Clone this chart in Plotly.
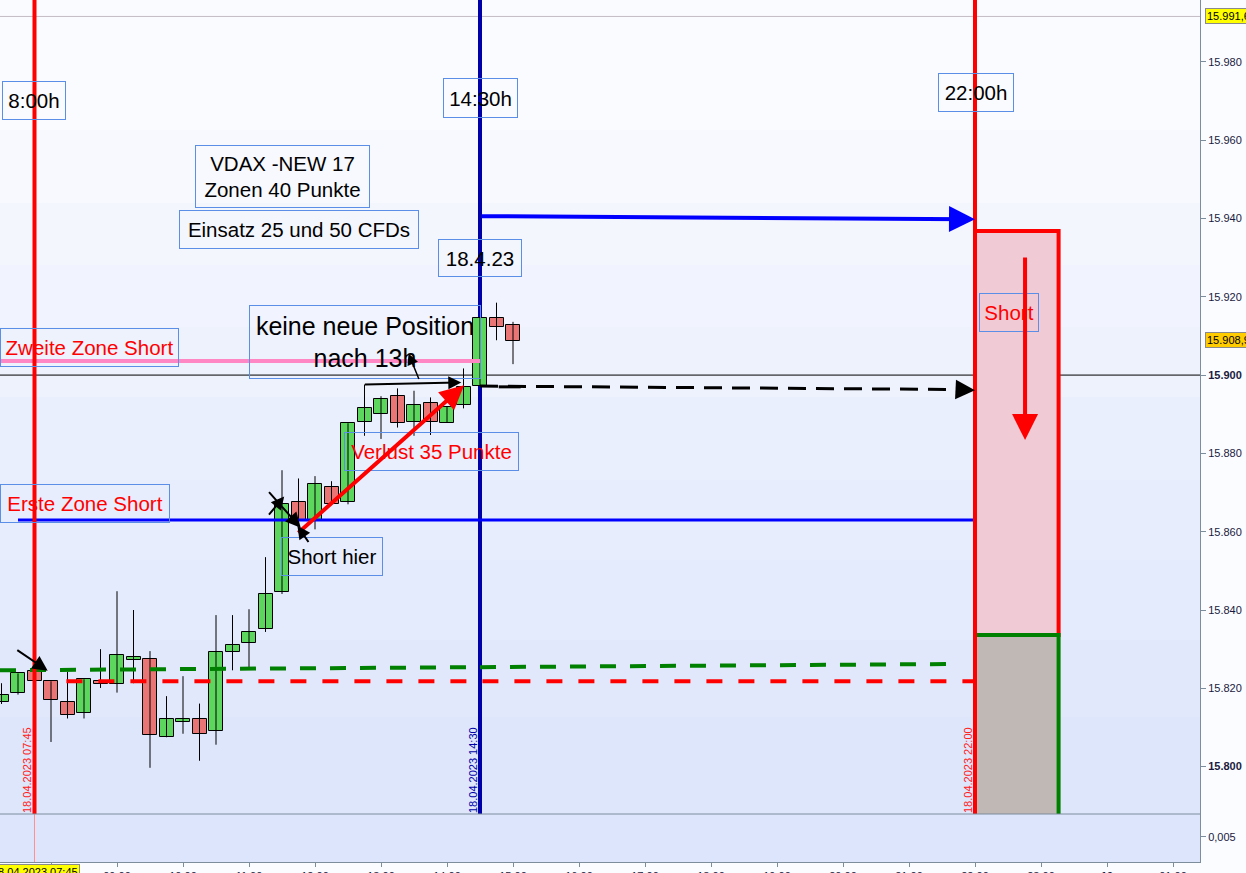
import pandas as pd
import plotly.graph_objects as go

# ---------------- data ----------------
times = list(pd.date_range("2023-04-18 07:15", periods=32, freq="15min"))
opens = [15816.4, 15818.9, 15824.4, 15821.8, 15816.4, 15813.8, 15821.8, 15821.2,
         15827.3, 15827.4, 15807.5, 15811.4, 15812.1, 15809.0, 15829.4, 15831.5,
         15835.1, 15844.5, 15867.5, 15863.1, 15871.5, 15867.5, 15887.9, 15890.0,
         15894.6, 15887.9, 15892.8, 15887.8, 15892.3, 15897.3, 15914.7, 15912.8]
highs = [15821.3, 15823.8, 15824.6, 15821.8, 15824.2, 15822.3, 15830.0, 15844.8,
         15840.0, 15829.5, 15818.0, 15823.1, 15816.1, 15838.7, 15838.7, 15840.2,
         15853.5, 15875.7, 15873.6, 15874.2, 15872.9, 15887.7, 15897.6, 15894.6,
         15896.6, 15896.0, 15894.3, 15892.0, 15901.7, 15914.7, 15918.5, 15913.6]
lows = [15816.0, 15818.4, 15821.6, 15806.3, 15812.3, 15812.3, 15820.1, 15818.9,
        15821.3, 15799.7, 15807.5, 15808.4, 15801.5, 15805.6, 15824.6, 15825.3,
        15834.4, 15844.1, 15862.0, 15860.6, 15866.8, 15867.0, 15884.5, 15883.7,
        15886.6, 15884.5, 15884.7, 15887.8, 15891.5, 15897.3, 15908.9, 15902.8]
closes = [15818.4, 15823.8, 15821.8, 15816.9, 15813.3, 15822.3, 15821.2, 15828.4,
          15827.9, 15808.0, 15812.1, 15812.1, 15808.4, 15829.2, 15831.0, 15834.5,
          15844.1, 15867.0, 15863.1, 15872.1, 15867.0, 15887.7, 15891.5, 15894.0,
          15887.7, 15892.3, 15888.1, 15891.9, 15897.0, 15914.7, 15912.2, 15908.8]

y_ticks = [15800, 15820, 15840, 15860, 15880, 15900, 15920, 15940, 15960, 15980]
y_ticktext = ["<b>15.800</b>", "15.820", "15.840", "15.860", "15.880", "<b>15.900</b>",
              "15.920", "15.940", "15.960", "15.980"]
x_ticks = list(pd.date_range("2023-04-18 08:00", "2023-04-19 01:00", freq="1h"))
x_ticktext = ["", "09:00", "10:00", "11:00", "12:00", "13:00", "14:00", "15:00", "16:00",
              "17:00", "18:00", "19:00", "20:00", "21:00", "22:00", "23:00", "<b>19</b>", "01:00"]

t_open = pd.Timestamp("2023-04-18 07:45")
t_us = pd.Timestamp("2023-04-18 14:30")
t_close = pd.Timestamp("2023-04-18 22:00")
t_box_end = pd.Timestamp("2023-04-18 23:16")

level_zone2 = 15903.6        # pink "Zweite Zone Short"
level_zone1 = 15863.0        # blue "Erste Zone Short"
level_red_dash = 15821.8
green_dash = [15824.6, 15826.2]
level_last = 15900.0
level_high = 15991.6
last_price = 15908.9
box_top, box_mid = 15936.8, 15833.6

# ---------------- layout constants ----------------
W, H = 1246, 873
PLOT_R = 1200      # right edge of plot area (px)
PLOT_B = 862       # bottom of plot area (px)
MAIN_B = 814       # bottom of main panel (px)
x_left = pd.Timestamp("2023-04-18 07:13:38")
x_right = pd.Timestamp("2023-04-19 01:24:33")
y_lo, y_hi = 15787.9, 15995.8


def pxx(x):
    return x / PLOT_R


def pxy(y):
    return (PLOT_B - y) / PLOT_B


fig = go.Figure()

# wicks
wx, wy = [], []
for t, h, l in zip(times, highs, lows):
    wx += [t, t, None]
    wy += [l, h, None]
fig.add_trace(go.Scatter(x=wx, y=wy, mode="lines", line=dict(color="black", width=1),
                         hoverinfo="skip", showlegend=False))

body_ms = 14 / 66 * 3600 * 1000
up = [i for i in range(len(times)) if closes[i] >= opens[i]]
dn = [i for i in range(len(times)) if closes[i] < opens[i]]
for idx, col in ((up, "#5cd65c"), (dn, "#e97575")):
    fig.add_trace(go.Bar(
        x=[times[i] for i in idx],
        base=[min(opens[i], closes[i]) for i in idx],
        y=[max(abs(closes[i] - opens[i]), 0.45) for i in idx],
        width=body_ms, marker=dict(color=col, line=dict(color="black", width=1)),
        showlegend=False, hoverinfo="skip"))

# lower panel (empty) axis trace
fig.add_trace(go.Scatter(x=[x_left], y=[0.005], yaxis="y2", mode="markers",
                         marker=dict(opacity=0), showlegend=False, hoverinfo="skip"))

shapes = []
# background bands
bands = [0, 130, 203, 265, 327, 397, 480, 560, 640, 717, MAIN_B]
c0 = (250, 251, 255)
c1 = (222, 230, 251)
n = len(bands) - 1
for i in range(n):
    f = i / (n - 1)
    col = "rgb(%d,%d,%d)" % tuple(round(c0[k] + (c1[k] - c0[k]) * f) for k in range(3))
    shapes.append(dict(type="rect", xref="paper", yref="paper", x0=0, x1=1,
                       y0=pxy(bands[i + 1]), y1=pxy(bands[i]), fillcolor=col,
                       line=dict(width=0), layer="below"))
shapes.append(dict(type="rect", xref="paper", yref="paper", x0=0, x1=1, y0=0,
                   y1=pxy(MAIN_B), fillcolor="#dce5fc", line=dict(width=0), layer="below"))

# high line
shapes.append(dict(type="line", xref="paper", yref="y", x0=0, x1=1, y0=level_high, y1=level_high,
                   line=dict(color="#c4bcc4", width=1), layer="below"))
# 15900 line
shapes.append(dict(type="line", xref="paper", yref="y", x0=0, x1=1, y0=level_last, y1=level_last,
                   line=dict(color="black", width=1), layer="below"))
# navy vertical line 14:30
shapes.append(dict(type="line", xref="x", yref="paper", x0=t_us, x1=t_us, y0=pxy(MAIN_B), y1=1,
                   line=dict(color="#0000a8", width=4), layer="below"))
# pink zone 2 line
shapes.append(dict(type="line", xref="x", yref="y", x0=x_left, x1=t_us, y0=level_zone2, y1=level_zone2,
                   line=dict(color="#ff88c4", width=4)))
# blue zone 1 line
shapes.append(dict(type="line", xref="x", yref="y", x0=pd.Timestamp("2023-04-18 07:30"), x1=t_close,
                   y0=level_zone1, y1=level_zone1, line=dict(color="#0000ff", width=3)))
# green dashed
shapes.append(dict(type="line", xref="x", yref="y", x0=x_left, x1=pd.Timestamp("2023-04-18 21:37"),
                   y0=green_dash[0], y1=green_dash[1],
                   line=dict(color="#008000", width=4, dash="16px,14px")))
# red dashed
shapes.append(dict(type="line", xref="x", yref="y", x0=pd.Timestamp("2023-04-18 08:14"), x1=t_close,
                   y0=level_red_dash, y1=level_red_dash,
                   line=dict(color="#ff0000", width=4, dash="16px,16px")))
# black dashed to close
shapes.append(dict(type="line", xref="x", yref="y", x0=t_us, x1=pd.Timestamp("2023-04-18 21:50"),
                   y0=15897.2, y1=15896.3, line=dict(color="black", width=3, dash="18px,10px")))
# short dash
shapes.append(dict(type="line", xref="x", yref="y", x0=pd.Timestamp("2023-04-18 14:47"),
                   x1=pd.Timestamp("2023-04-18 15:07"), y0=15897.0, y1=15897.0,
                   line=dict(color="black", width=3)))
# rectangle
shapes.append(dict(type="rect", xref="x", yref="y", x0=t_close, x1=t_box_end, y0=box_mid, y1=box_top,
                   fillcolor="#f0cbd6", line=dict(color="#ff0000", width=4)))
shapes.append(dict(type="rect", xref="x", yref="y", x0=t_close, x1=t_box_end, y0=y_lo - 5, y1=box_mid,
                   fillcolor="#bfb8b4", line=dict(color="#008000", width=4)))
shapes.append(dict(type="line", xref="x", yref="y", x0=t_close, x1=t_close, y0=y_lo - 5, y1=box_mid,
                   line=dict(color="#ff0000", width=4)))
# red vertical lines
shapes.append(dict(type="line", xref="x", yref="paper", x0=t_open, x1=t_open, y0=pxy(MAIN_B), y1=1,
                   line=dict(color="#ff0000", width=4)))
shapes.append(dict(type="line", xref="x", yref="paper", x0=t_open, x1=t_open, y0=0, y1=pxy(MAIN_B),
                   line=dict(color="#ff9090", width=1)))
shapes.append(dict(type="line", xref="x", yref="paper", x0=t_close, x1=t_close, y0=pxy(MAIN_B), y1=1,
                   line=dict(color="#ff0000", width=4)))
# panel divider
shapes.append(dict(type="line", xref="paper", yref="paper", x0=0, x1=1, y0=pxy(MAIN_B), y1=pxy(MAIN_B),
                   line=dict(color="#7d8d9c", width=1)))

ann = []
BOX = "#5b8ee6"


def label(text, cx, cy, w, h, color="black", size=20.5):
    ann.append(dict(xref="paper", yref="paper", x=pxx(cx), y=pxy(cy), text=text, showarrow=False,
                    xanchor="center", yanchor="middle", width=w, height=h, bordercolor=BOX,
                    borderwidth=1, borderpad=0, font=dict(family="Liberation Sans, Arial", size=size,
                                                          color=color)))


label("8:00h", 33.5, 100, 62, 37)
label("14:30h", 480, 97.5, 73, 38)
label("22:00h", 975.5, 92.5, 74, 37)
label("VDAX -NEW 17<br>Zonen 40 Punkte", 282, 177, 173, 61)
label("Einsatz 25 und 50 CFDs", 299, 229.5, 238, 37)
label("18.4.23", 480, 257.5, 82, 36)
label("keine neue Position<br>nach 13h", 364.5, 341.5, 230, 72, size=25)
label("Zweite Zone Short", 89, 348, 177, 37, color="#ff0000")
label("Erste Zone Short", 85, 504, 168, 37, color="#ff0000")
label("Short hier", 331.5, 556, 100, 37)
label("Verlust 35 Punkte", 431, 451, 173, 37, color="#ff0000")
label("Short", 1009, 312, 58, 37, color="#ff0000")

# rotated time labels
for t, txt, col, xp in ((t_open, "18.04.2023 07:45", "#ff2020", 27),
                        (t_us, "18.04.2023 14:30", "#0000a8", 473),
                        (t_close, "18.04.2023 22:00", "#ff2020", 968)):
    ann.append(dict(xref="paper", yref="paper", x=pxx(xp), y=pxy(770), text=txt, textangle=-90,
                    showarrow=False, xanchor="center", yanchor="middle",
                    font=dict(family="Liberation Sans, Arial", size=11, color=col)))


def arrow(x0, y0, x1, y1, color, width, size, head=2):
    ann.append(dict(xref="x", yref="y", axref="x", ayref="y", x=x1, y=y1, ax=x0, ay=y0, text="",
                    showarrow=True, arrowhead=head, arrowsize=size, arrowwidth=width,
                    arrowcolor=color))


arrow(t_us, 15940.6, t_close, 15939.8, "#0000ff", 4, 1.3)
arrow(pd.Timestamp("2023-04-18 11:43:30"), 15859.4, pd.Timestamp("2023-04-18 14:15:30"), 15897.4,
      "#ff0000", 4, 1.2)
arrow(pd.Timestamp("2023-04-18 22:45:30"), 15930.4, pd.Timestamp("2023-04-18 22:45:30"), 15883.4,
      "#ff0000", 4, 1.3)
arrow(pd.Timestamp("2023-04-18 21:45"), 15896.3, t_close, 15896.1, "black", 3, 1.3)
arrow(pd.Timestamp("2023-04-18 07:28"), 15830.0, pd.Timestamp("2023-04-18 07:57"), 15824.5,
      "black", 2, 1.5)
arrow(pd.Timestamp("2023-04-18 11:17"), 15870.5, pd.Timestamp("2023-04-18 11:47"), 15861.0,
      "black", 2, 1.5)
arrow(pd.Timestamp("2023-04-18 11:17"), 15864.0, pd.Timestamp("2023-04-18 11:32"), 15869.0,
      "black", 2, 1.3)
arrow(pd.Timestamp("2023-04-18 11:55"), 15857.0, pd.Timestamp("2023-04-18 11:44"), 15861.5,
      "black", 2, 1.3)
arrow(pd.Timestamp("2023-04-18 12:44"), 15897.6, pd.Timestamp("2023-04-18 14:13"), 15898.1,
      "black", 2, 1.3)
arrow(pd.Timestamp("2023-04-18 13:35"), 15898.6, pd.Timestamp("2023-04-18 13:25"), 15905.5,
      "black", 1.5, 1.5)

# price labels on right axis
for yv, txt, bg in ((level_high, "15.991,6", "#ffff00"), (last_price, "15.908,9", "#ffcc00")):
    ann.append(dict(xref="paper", yref="y", x=1.0, y=yv, xshift=5, text=txt, showarrow=False,
                    xanchor="left", yanchor="middle", bgcolor=bg, bordercolor="#8a8a8a",
                    borderwidth=1, borderpad=1,
                    font=dict(family="Liberation Sans, Arial", size=11, color="black")))
# bottom date label
ann.append(dict(xref="paper", yref="paper", x=pxx(35), y=0, yshift=-2, text="18.04.2023 07:45",
                showarrow=False, xanchor="center", yanchor="top", bgcolor="#ffff00",
                bordercolor="#8a8a8a", borderwidth=1, borderpad=1,
                font=dict(family="Liberation Sans, Arial", size=11, color="black")))

fig.update_layout(
    width=W, height=H, margin=dict(l=0, r=W - PLOT_R, t=0, b=H - PLOT_B, autoexpand=False),
    paper_bgcolor="#fbfcff", plot_bgcolor="#eef2fd", barmode="overlay", showlegend=False,
    bargap=0,
    xaxis=dict(type="date", range=[x_left, x_right], anchor="y2", tickvals=x_ticks,
               ticktext=x_ticktext, ticks="outside", ticklen=4, tickcolor="#7d8d9c",
               showgrid=False, zeroline=False, showline=True, linecolor="#7d8d9c",
               tickfont=dict(family="Liberation Sans, Arial", size=11, color="#1a1a40"),
               automargin=False),
    yaxis=dict(domain=[pxy(MAIN_B), 1], range=[y_lo, y_hi], side="right", anchor="x",
               tickvals=y_ticks, ticktext=y_ticktext, ticks="outside", ticklen=5,
               tickcolor="#7d8d9c", showgrid=False, zeroline=False, showline=True,
               linecolor="#7d8d9c",
               tickfont=dict(family="Liberation Sans, Arial", size=11, color="#1a1a40"),
               automargin=False),
    yaxis2=dict(domain=[0, pxy(MAIN_B)], range=[0, 0.0095], side="right", anchor="x",
                tickvals=[0.005], ticktext=["0,005"], ticks="outside", ticklen=5,
                tickcolor="#7d8d9c", showgrid=False, zeroline=False, showline=True,
                linecolor="#7d8d9c",
                tickfont=dict(family="Liberation Sans, Arial", size=11, color="#1a1a40"),
                automargin=False),
    shapes=shapes, annotations=ann,
)

fig.write_html("out.html", config={"displayModeBar": False},
               post_script="document.body.style.margin='0';document.body.style.overflow='hidden';")
